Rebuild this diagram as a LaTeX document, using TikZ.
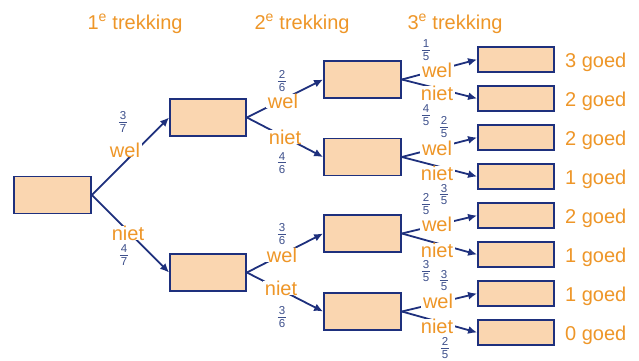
\documentclass[tikz,border=0pt]{standalone}
\usepackage{fontspec}
\setmainfont{Liberation Sans}
\usetikzlibrary{arrows.meta}
\definecolor{boxfill}{RGB}{250,214,176}
\definecolor{navy}{RGB}{30,48,125}
\definecolor{orangetxt}{RGB}{238,150,40}
\definecolor{fraccol}{RGB}{62,80,140}
\newcommand{\fracl}[2]{\vbox{\offinterlineskip\halign{\hfil##\hfil\cr #1\cr\noalign{\kern1.8pt}\rule{8.5pt}{0.8pt}\cr\noalign{\kern1.8pt}#2\cr}}}
\begin{document}
\begin{tikzpicture}[x=1pt,y=-1pt,
  outbox/.style={draw=navy,fill=boxfill,line width=1.8pt,inner sep=0pt,minimum width=77pt,minimum height=37pt},
  endbox/.style={draw=navy,fill=boxfill,line width=1.8pt,inner sep=0pt,minimum width=76pt,minimum height=25pt},
  lab/.style={text=orangetxt,font=\fontsize{20}{22}\selectfont,fill=white,inner xsep=2pt,inner ysep=0pt,anchor=base},
  ttl/.style={text=orangetxt,font=\fontsize{20}{22}\selectfont,inner sep=0pt,anchor=base},
  res/.style={text=orangetxt,font=\fontsize{20}{22}\selectfont,inner sep=0pt,anchor=base west},
  frc/.style={text=fraccol,font=\fontsize{11.5}{13}\selectfont,inner sep=0pt},
  conn/.style={draw=navy,line width=1.8pt,-{Latex[length=9pt,width=8pt]}}
]
\useasboundingbox (0,0) rectangle (639,360);
\fill[white] (0,0) rectangle (639,360);

% titles
\node[ttl] (t1) at (135,29) {1\textsuperscript{e} trekking};
\node[ttl] (t2) at (302,29) {2\textsuperscript{e} trekking};
\node[ttl] (t3) at (455,29) {3\textsuperscript{e} trekking};

% boxes
\node[outbox] (r) at (52.5,195) {};
\node[outbox,minimum width=76pt] (a) at (208,117.5) {};
\node[outbox,minimum width=76pt] (b) at (208,272.5) {};
\node[outbox] (aa) at (362.5,79.5) {};
\node[outbox] (ab) at (362.5,157) {};
\node[outbox] (ba) at (362.5,233.5) {};
\node[outbox] (bb) at (362.5,311.5) {};
\foreach \i/\y in {1/59.5,2/98.5,3/137.5,4/176.5,5/215.5,6/254.5,7/293.5,8/332.5}
  \node[endbox] (e\i) at (516,\y) {};

% connectors
\draw[conn] (r.east) -- (a.west);
\draw[conn] (r.east) -- (b.west);
\draw[conn] (a.east) -- (aa.west);
\draw[conn] (a.east) -- (ab.west);
\draw[conn] (b.east) -- (ba.west);
\draw[conn] (b.east) -- (bb.west);
\draw[conn] (aa.east) -- (e1.west);
\draw[conn] (aa.east) -- (e2.west);
\draw[conn] (ab.east) -- (e3.west);
\draw[conn] (ab.east) -- (e4.west);
\draw[conn] (ba.east) -- (e5.west);
\draw[conn] (ba.east) -- (e6.west);
\draw[conn] (bb.east) -- (e7.west);
\draw[conn] (bb.east) -- (e8.west);

% level 1 labels
\node[lab] (l1w) at (125,157) {wel};
\node[frc] (f1w) at (123,122) {\fracl{3}{7}};
\node[lab] (l1n) at (128,240) {niet};
\node[frc] (f1n) at (124,255) {\fracl{4}{7}};

% level 2 labels
\node[lab] (l2aw) at (283,108) {wel};
\node[frc] (f2aw) at (282,81) {\fracl{2}{6}};
\node[lab] (l2an) at (285,144) {niet};
\node[frc] (f2an) at (282,163) {\fracl{4}{6}};
\node[lab] (l2bw) at (282,262) {wel};
\node[frc] (f2bw) at (282,234) {\fracl{3}{6}};
\node[lab] (l2bn) at (281,295) {niet};
\node[frc] (f2bn) at (282,317) {\fracl{3}{6}};

% level 3 labels
\node[lab] (l3aw) at (437,77) {wel};
\node[lab] (l3an) at (437,100) {niet};
\node[lab] (l3bw) at (437,155) {wel};
\node[lab] (l3bn) at (437,180) {niet};
\node[lab] (l3cw) at (437,231) {wel};
\node[lab] (l3cn) at (437,257) {niet};
\node[lab] (l3dw) at (438,308) {wel};
\node[lab] (l3dn) at (437,333) {niet};
\node[frc] (f3aw) at (426,50) {\fracl{1}{5}};
\node[frc] (f3an) at (426,115) {\fracl{4}{5}};
\node[frc] (f3bw) at (444,127) {\fracl{2}{5}};
\node[frc] (f3bn) at (444,194.5) {\fracl{3}{5}};
\node[frc] (f3cw) at (426,204) {\fracl{2}{5}};
\node[frc] (f3cn) at (426,271) {\fracl{3}{5}};
\node[frc] (f3dw) at (444,280.5) {\fracl{3}{5}};
\node[frc] (f3dn) at (445,348) {\fracl{2}{5}};

% results
\foreach \i/\y/\t in {1/59.5/3,2/98.5/2,3/137.5/2,4/176.5/1,5/215.5/2,6/254.5/1,7/293.5/1,8/332.5/0}
  \node[res] (g\i) at (565,\y+7.5) {\t\ goed};
\end{tikzpicture}
\end{document}
